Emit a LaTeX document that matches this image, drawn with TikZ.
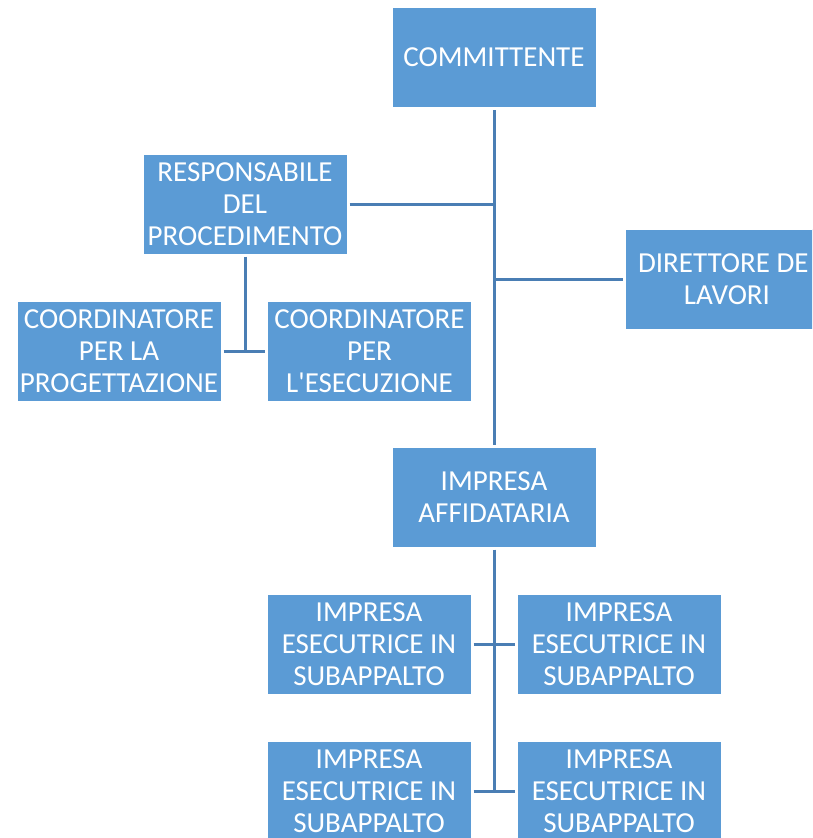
\documentclass[tikz,border=0pt]{standalone}
\usepackage{fontspec}
\setmainfont{Carlito}[Ligatures=TeXOff]
\definecolor{boxfill}{HTML}{5B9BD5}
\definecolor{linec}{HTML}{4A7EB4}
\begin{document}
\begin{tikzpicture}[x=1pt,y=-1pt,
  orgbox/.style={rectangle, fill=boxfill, draw=white, line width=0.6pt,
    minimum width=204pt, minimum height=100pt, inner sep=0pt, outer sep=2.5pt,
    align=center, text=white, font=\fontsize{29}{32}\selectfont},
  conn/.style={draw=linec, line width=3pt}]
\useasboundingbox (0,0) rectangle (812,838);
\clip (0,0) rectangle (812,838);
\node[orgbox] (comm) at (494,57.5) {COMMITTENTE};
\node[orgbox] (resp) at (245,204) {RESPONSABILE\\DEL\\PROCEDIMENTO};
\node[orgbox] (dir) at (727,279) {DIRETTORE DE\phantom{I}\\LAVORI};
\node[orgbox] (coordP) at (119,351) {COORDINATORE\\PER LA\\PROGETTAZIONE};
\node[orgbox] (coordE) at (369.5,351) {COORDINATORE\\PER\\L'ESECUZIONE};
\node[orgbox] (aff) at (494,497) {IMPRESA\\AFFIDATARIA};
\node[orgbox] (s1) at (369,644) {IMPRESA\\ESECUTRICE IN\\SUBAPPALTO};
\node[orgbox] (s2) at (619,644) {IMPRESA\\ESECUTRICE IN\\SUBAPPALTO};
\node[orgbox] (s3) at (369,791) {IMPRESA\\ESECUTRICE IN\\SUBAPPALTO};
\node[orgbox] (s4) at (619,791) {IMPRESA\\ESECUTRICE IN\\SUBAPPALTO};
\draw[conn] (comm.south) -- (aff.north);
\draw[conn] (resp.east) -- (resp.east -| comm.south);
\draw[conn] (dir.west) -- (dir.west -| comm.south);
\draw[conn] (resp.south) -- (resp.south |- coordP.east);
\draw[conn] (coordP.east) -- (coordE.west);
\draw[conn] (aff.south) -- (aff.south |- s3.east);
\draw[conn] (s1.east) -- (s2.west);
\draw[conn] (s3.east) -- (s4.west);
\end{tikzpicture}
\end{document}
